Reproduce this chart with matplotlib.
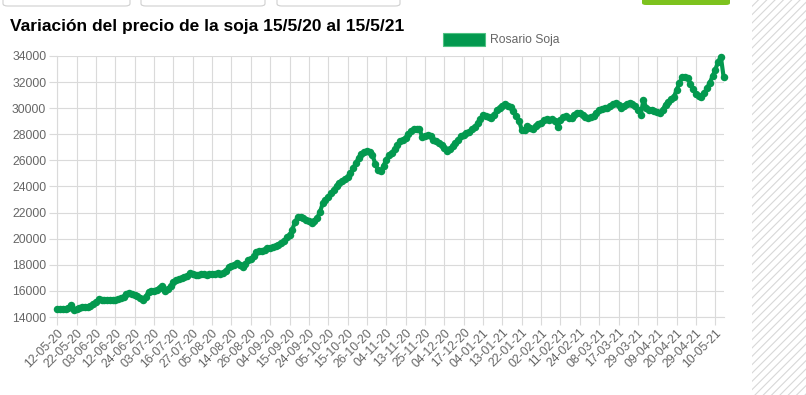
import matplotlib
matplotlib.use("Agg")
import matplotlib.pyplot as plt
from matplotlib.patches import Rectangle, FancyBboxPatch

# tick labels shown on the category axis (one every 7 trading days)
tick_labels = [
    "12-05-20", "22-05-20", "03-06-20", "12-06-20", "24-06-20", "03-07-20",
    "16-07-20", "27-07-20", "05-08-20", "14-08-20", "26-08-20", "04-09-20",
    "15-09-20", "24-09-20", "05-10-20", "15-10-20", "26-10-20", "04-11-20",
    "13-11-20", "25-11-20", "04-12-20", "17-12-20", "04-01-21", "13-01-21",
    "22-01-21", "02-02-21", "11-02-21", "24-02-21", "08-03-21", "17-03-21",
    "29-03-21", "09-04-21", "20-04-21", "29-04-21", "10-05-21",
]
label_step = 7

# Rosario soja price, one value per trading day
soja_may_jun = [
    14610, 14620, 14600, 14650, 14700, 14920, 14560,
    14620, 14680, 14760, 14800, 14780, 14850, 15000,
    15150, 15380, 15310, 15280, 15300, 15320, 15340,
    15300, 15350, 15420, 15560, 15750, 15820, 15790,
    15720, 15580, 15450, 15300, 15560, 15940, 16000,
]
soja_jul_aug = [
    16020, 16070, 16250, 16380, 15990, 16150, 16380,
    16700, 16800, 16880, 16960, 17060, 17150, 17350,
    17300, 17230, 17250, 17300, 17280, 17200, 17260,
    17300, 17320, 17350, 17300, 17380, 17550, 17850,
    17920, 18000, 18100, 17980, 17850, 18050, 18350,
]
soja_sep_oct = [
    18450, 18650, 18950, 19030, 19060, 19150, 19260,
    19320, 19360, 19420, 19500, 19650, 19850, 20100,
    20250, 20700, 21300, 21650, 21680, 21600, 21450,
    21330, 21230, 21380, 21600, 22050, 22700, 23000,
    23220, 23500, 23750, 24050, 24280, 24400, 24550,
]
soja_nov_dec = [
    24700, 25000, 25400, 25800, 26200, 26520, 26620,
    26720, 26650, 26400, 25750, 25250, 25150, 25600,
    26050, 26450, 26600, 26850, 27200, 27450, 27580,
    27720, 28000, 28250, 28380, 28420, 28380, 27800,
    27880, 27950, 27900, 27560, 27450, 27350, 27180,
]
soja_jan_feb = [
    26950, 26740, 26850, 27080, 27300, 27600, 27850,
    27950, 28080, 28200, 28400, 28550, 28850, 29150,
    29450, 29420, 29350, 29230, 29500, 29850, 30000,
    30200, 30350, 30200, 30100, 29750, 29400, 29050,
    28330, 28300, 28600, 28450, 28400, 28650, 28800,
]
soja_mar_apr = [
    28880, 29100, 29150, 29120, 29150, 29050, 28580,
    29100, 29350, 29380, 29250, 29280, 29450, 29650,
    29620, 29450, 29350, 29250, 29350, 29420, 29650,
    29850, 29920, 29980, 30020, 30150, 30300, 30420,
    30250, 30050, 30200, 30350, 30420, 30300, 30150,
]
soja_apr_may = [
    29900, 29480, 30630, 30050, 29860, 29900, 29820,
    29700, 29600, 29900, 30280, 30450, 30700, 30850,
    31400, 31900, 32400, 32420, 32300, 31850, 31500,
    31100, 30950, 30880, 31150, 31550, 31950, 32450,
    32950, 33550, 33950, 32400,
]
soja = (soja_may_jun + soja_jul_aug + soja_sep_oct + soja_nov_dec
        + soja_jan_feb + soja_mar_apr + soja_apr_may)

green = "#03994f"
grid_c = "#dadada"
text_c = "#666666"
W, H = 806, 395

plt.rcParams["font.family"] = ["Liberation Sans", "DejaVu Sans"]

fig = plt.figure(figsize=(W / 100, H / 100), dpi=100)
fig.patch.set_facecolor("white")

# plot area in pixels: x 57..724, y 56..317
left, right, top, bottom = 57.3, 723.6, 56, 317
ax = fig.add_axes([left / W, 1 - bottom / H, (right - left) / W, (bottom - top) / H])

x = list(range(len(soja)))
ax.plot(x, soja, color=green, lw=3, marker="o", ms=5.4, mew=0, zorder=3,
        clip_on=False)

ax.set_xlim(0, len(soja) - 1)
ax.set_ylim(14000, 34000)
ax.set_yticks(range(14000, 34001, 2000))
ax.set_xticks([i * label_step for i in range(len(tick_labels))])
ax.set_xticklabels(tick_labels, rotation=45, ha="right", va="top",
                   rotation_mode="anchor")

ax.grid(True, color=grid_c, lw=0.8)
ax.set_axisbelow(True)
for s in ["top", "right"]:
    ax.spines[s].set_visible(False)
for s in ["left", "bottom"]:
    ax.spines[s].set_color(grid_c)
    ax.spines[s].set_linewidth(0.8)
ax.tick_params(axis="both", colors=grid_c, length=6, width=0.8,
               labelcolor=text_c, labelsize=8.7)
ax.tick_params(axis="x", pad=1)
ax.tick_params(axis="y", pad=2)

# title and legend
fig.text(10 / W, 1 - 27 / H, "Variación del precio de la soja 15/5/20 al 15/5/21",
         fontweight="bold", fontsize=12.5, color="black", va="center", ha="left")
fig.patches.append(Rectangle((443 / W, 1 - 46 / H), 42 / W, 13 / H,
                             transform=fig.transFigure, facecolor=green,
                             edgecolor="#4fc283", lw=0.8))
fig.text(490 / W, 1 - 39.5 / H, "Rosario Soja", color=text_c, fontsize=8.7,
         va="center", ha="left")

# page bits around the chart
for x0, x1 in [(3, 130), (141, 265), (277, 400)]:
    fig.patches.append(FancyBboxPatch((x0 / W, 1 - 6 / H), (x1 - x0) / W, 12 / H,
                                      boxstyle="round,pad=0,rounding_size=0.006",
                                      transform=fig.transFigure, facecolor="white",
                                      edgecolor="#cfcfcf", lw=0.8))
fig.patches.append(FancyBboxPatch((642 / W, 1 - 5 / H), 88 / W, 10 / H,
                                  boxstyle="round,pad=0,rounding_size=0.005",
                                  transform=fig.transFigure, facecolor="#7dc21e",
                                  edgecolor="none"))
plt.rcParams["hatch.linewidth"] = 0.8
plt.rcParams["hatch.color"] = "#d8d8d8"
fig.patches.append(Rectangle((752 / W, 0), 54 / W, 1, transform=fig.transFigure,
                             facecolor="white", edgecolor="#d8d8d8", lw=0,
                             hatch="////"))

fig.savefig("out.png", dpi=100)
